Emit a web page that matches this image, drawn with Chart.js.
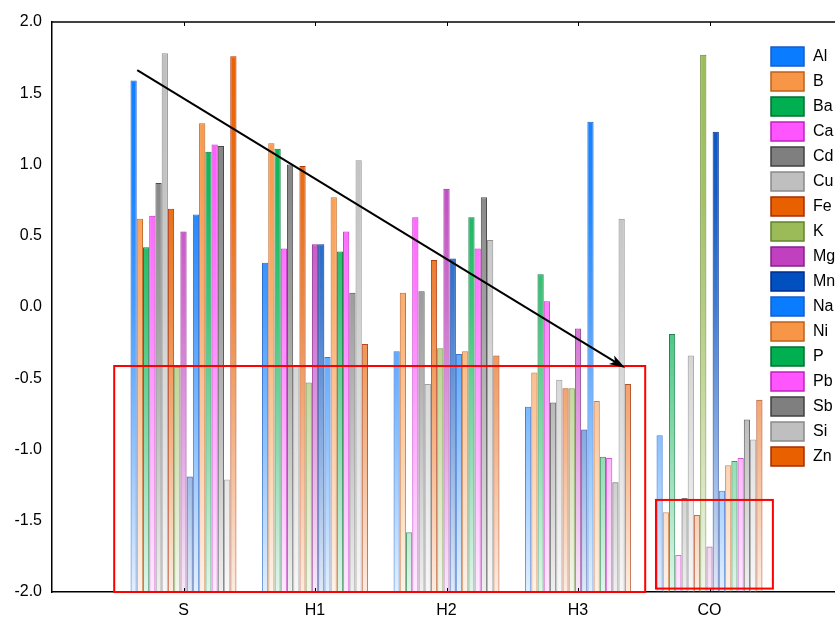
<!DOCTYPE html>
<html>
<head>
<meta charset="utf-8">
<script src="https://cdn.jsdelivr.net/npm/chart.js@4.4.1/dist/chart.umd.min.js"></script>
<style>
    html, body { margin: 0; padding: 0; background: #fff; overflow: hidden; }
    #wrap { width: 850px; height: 619px; }
</style>
</head>
<body>
<div id="wrap"><canvas id="chart" width="850" height="619"></canvas></div>
<script>
// categories and series
const categories = ['S', 'H1', 'H2', 'H3', 'CO'];
const elements = ['Al', 'B', 'Ba', 'Ca', 'Cd', 'Cu', 'Fe', 'K', 'Mg', 'Mn', 'Na', 'Ni', 'P', 'Pb', 'Sb', 'Si', 'Zn'];

const al = [1.59, 0.31, -0.31, -0.70, -0.90];
const b  = [0.62, 1.15, 0.10, -0.46, -1.44];
const ba = [0.42, 1.11, -1.58, 0.23, -0.19];
const ca = [0.64, 0.41, 0.63, 0.04, -1.74];
const cd = [0.87, 1.00, 0.11, -0.67, -1.34];
const cu = [1.78, -0.41, -0.54, -0.51, -0.34];
const fe = [0.69, 0.99, 0.33, -0.57, -1.46];
const k  = [-0.42, -0.53, -0.29, -0.57, 1.77];
const mg = [0.53, 0.44, 0.83, -0.15, -1.68];
const mn = [-1.19, 0.44, 0.34, -0.86, 1.23];
const na = [0.65, -0.35, -0.33, 1.30, -1.29];
const ni = [1.29, 0.77, -0.31, -0.66, -1.11];
const p  = [1.09, 0.39, 0.63, -1.05, -1.08];
const pb = [1.14, 0.53, 0.41, -1.06, -1.06];
const sb = [1.13, 0.10, 0.77, -1.23, -0.79];
const si = [-1.21, 1.03, 0.47, 0.62, -0.93];
const zn = [1.76, -0.26, -0.34, -0.54, -0.65];

const seriesValues = [al, b, ba, ca, cd, cu, fe, k, mg, mn, na, ni, p, pb, sb, si, zn];

const yTicks = [-2.0, -1.5, -1.0, -0.5, 0.0, 0.5, 1.0, 1.5, 2.0];

// annotations, in data units
const arrowFrom = [0.648, 1.663];
const arrowTo = [4.359, -0.428];
const redBoxes = [
    [0.473, -0.414, 4.511, -2.0],
    [4.593, -1.354, 5.482, -1.976]
];

const fillColors = ['#0a7cff', '#f79646', '#00b050', '#ff55ff', '#7f7f7f', '#bfbfbf', '#e86000', '#9bbb59', '#c040c0', '#0050c0',
    '#0a7cff', '#f79646', '#00b050', '#ff55ff', '#7f7f7f', '#bfbfbf', '#e86000'];
const edgeColors = ['#1a5cc8', '#c0601a', '#00702f', '#c020c0', '#404040', '#8a8a8a', '#a82c00', '#62842a', '#86208a', '#002a90',
    '#1a5cc8', '#c0601a', '#00702f', '#c020c0', '#404040', '#8a8a8a', '#a82c00'];

const fontFamily = '"Liberation Sans", Arial, sans-serif';

function rgba(hex, a) {
    const n = parseInt(hex.slice(1), 16);
    return `rgba(${(n >> 16) & 255},${(n >> 8) & 255},${n & 255},${a})`;
}

// vertical fade over the whole plot: full colour at the top, almost white at the bottom
function fade(hex, stops) {
    return (c) => {
        const area = c.chart.chartArea;
        if (!area) return hex;
        const g = c.chart.ctx.createLinearGradient(0, area.top, 0, area.bottom);
        stops.forEach((s) => g.addColorStop(s[0], rgba(hex, s[1])));
        return g;
    };
}

var overlay = {
    id: 'overlay',
    afterDatasetsDraw(chart) {
        const { ctx, chartArea: { left, right, top, bottom }, scales: { x, y } } = chart;
        ctx.save();

        // top frame + small inner ticks
        ctx.strokeStyle = '#000';
        ctx.lineWidth = 1.5;
        ctx.beginPath();
        ctx.moveTo(left, top);
        ctx.lineTo(right, top);
        ctx.stroke();
        ctx.lineWidth = 1;
        categories.forEach((c, i) => {
            const px = Math.round(x.getPixelForValue(i + 1)) + 0.5;
            ctx.beginPath();
            ctx.moveTo(px, bottom);
            ctx.lineTo(px, bottom - 4);
            ctx.moveTo(px, top);
            ctx.lineTo(px, top + 4);
            ctx.stroke();
        });

        // red boxes
        ctx.strokeStyle = '#ff0000';
        ctx.lineWidth = 2;
        redBoxes.forEach((r) => {
            const x0 = x.getPixelForValue(r[0]), y0 = y.getPixelForValue(r[1]);
            const x1 = x.getPixelForValue(r[2]), y1 = y.getPixelForValue(r[3]);
            ctx.strokeRect(x0, y0, x1 - x0, y1 - y0);
        });

        // arrow
        const ax0 = x.getPixelForValue(arrowFrom[0]), ay0 = y.getPixelForValue(arrowFrom[1]);
        const ax1 = x.getPixelForValue(arrowTo[0]), ay1 = y.getPixelForValue(arrowTo[1]);
        const ang = Math.atan2(ay1 - ay0, ax1 - ax0);
        ctx.strokeStyle = '#000';
        ctx.fillStyle = '#000';
        ctx.lineWidth = 2;
        ctx.beginPath();
        ctx.moveTo(ax0, ay0);
        ctx.lineTo(ax1 - 8 * Math.cos(ang), ay1 - 8 * Math.sin(ang));
        ctx.stroke();
        ctx.beginPath();
        ctx.moveTo(ax1, ay1);
        ctx.lineTo(ax1 - 16 * Math.cos(ang) + 5 * Math.sin(ang), ay1 - 16 * Math.sin(ang) - 5 * Math.cos(ang));
        ctx.lineTo(ax1 - 12 * Math.cos(ang), ay1 - 12 * Math.sin(ang));
        ctx.lineTo(ax1 - 16 * Math.cos(ang) - 5 * Math.sin(ang), ay1 - 16 * Math.sin(ang) + 5 * Math.cos(ang));
        ctx.closePath();
        ctx.fill();

        // legend inside the plot
        ctx.font = '16px ' + fontFamily;
        ctx.textBaseline = 'middle';
        ctx.textAlign = 'left';
        elements.forEach((name, i) => {
            const by = 47 + i * 25;
            ctx.fillStyle = fillColors[i];
            ctx.fillRect(771, by, 33, 19);
            ctx.strokeStyle = edgeColors[i];
            ctx.lineWidth = 1.5;
            ctx.strokeRect(771, by, 33, 19);
            ctx.fillStyle = '#000';
            ctx.fillText(name, 813, by + 10);
        });

        ctx.restore();
    }
};

var fillStops = [[0, 1], [0.3, 0.92], [0.5, 0.75], [0.75, 0.45], [1, 0.12]];
var edgeStops = [[0, 1], [0.5, 0.9], [1, 0.6]];

var datasets = elements.map((name, i) => ({
    label: name,
    data: seriesValues[i].map((v, j) => ({ x: j + 1, y: v })),
    base: -2,
    backgroundColor: fade(fillColors[i], fillStops),
    borderColor: fade(edgeColors[i], edgeStops),
    borderWidth: 1,
    categoryPercentage: 0.806,
    barPercentage: 1.0
}));

var config = {
    type: 'bar',
    data: { datasets: datasets },
    options: {
        responsive: false,
        animation: false,
        layout: { padding: { top: 22, right: 0, bottom: 0, left: 0 } },
        plugins: {
            legend: { display: false },
            tooltip: { enabled: false }
        },
        scales: {
            x: {
                type: 'linear',
                min: 0,
                max: 6,
                offset: false,
                grid: { display: false, drawTicks: false, offset: false },
                border: { display: true, color: '#000', width: 1.5 },
                afterBuildTicks: (scale) => {
                    scale.ticks = [0, 1, 2, 3, 4, 5, 6].map((v) => ({ value: v }));
                },
                afterFit: (scale) => { scale.height = 27; },
                ticks: {
                    padding: 9,
                    color: '#000',
                    font: { family: fontFamily, size: 16 },
                    maxRotation: 0,
                    autoSkip: false,
                    callback: (v) => categories[v - 1] || ''
                }
            },
            y: {
                min: -2,
                max: 2,
                grid: { display: false, drawTicks: false },
                border: { display: true, color: '#000', width: 1.5 },
                afterBuildTicks: (scale) => {
                    scale.ticks = yTicks.map((v) => ({ value: v }));
                },
                afterFit: (scale) => { scale.width = 52; },
                ticks: {
                    padding: 10,
                    color: '#000',
                    font: { family: fontFamily, size: 16 },
                    callback: (v) => Number(v).toFixed(1)
                }
            }
        }
    },
    plugins: [overlay]
};

new Chart(document.getElementById('chart'), config);
</script>
</body>
</html>
